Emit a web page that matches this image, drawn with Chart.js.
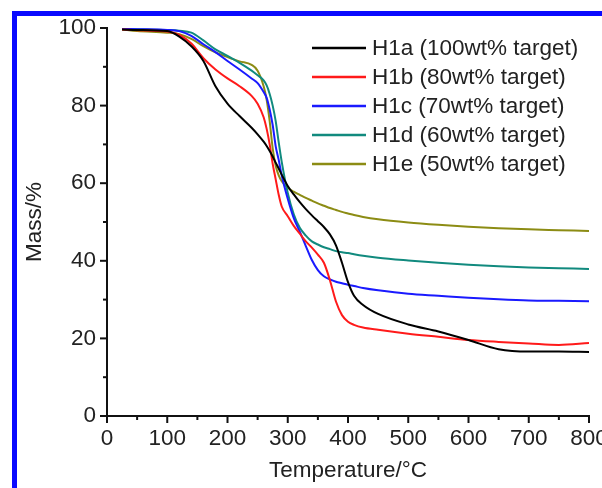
<!DOCTYPE html>
<html><head><meta charset="utf-8">
<script src="https://cdn.jsdelivr.net/npm/chart.js@4"></script>
<style>
html,body{margin:0;padding:0;background:#fff;}
#wrap{position:relative;width:602px;height:488px;overflow:hidden;background:#fff;}
#frame{position:absolute;left:12px;top:11px;width:620px;height:520px;border-left:5px solid #0a0aff;border-top:5px solid #0a0aff;box-sizing:border-box;pointer-events:none;}
canvas{position:absolute;left:0;top:0;}
</style></head>
<body><div id="wrap"><canvas id="c" width="602" height="488"></canvas><div id="frame"></div></div>
<script>
const temperatures = [25,50,100,120,140,160,180,200,220,240,250,260,265,270,275,280,285,290,300,310,320,330,340,350,360,370,380,390,400,410,425,450,500,550,600,650,700,750,800];
const h1a = [99.6,99.5,99.2,97.8,95.3,91.5,85,80.5,77.3,74.3, 72.6,70.7,69.6,68.3,66.9, 65.3,63.8,62.2,59.3,57.1, 55.1,53.3,51.7,50.2,48.7, 46.8,44,39.5,34.5,31, 28.6,26.3,23.6,21.8,19.6, 17.2,16.6,16.6,16.5];
const h1b = [99.6,99.4,99.1,98.2,96,92.2,89.3,87,85,82.5, 80.5,77,74,70,65, 61,57,54,51.5,49, 47,45,43.4,41.6,39.5, 35,29.5,26,24.3,23.5, 22.8,22.2,21.2,20.4,19.6, 19.1,18.7,18.3,18.8];
const h1c = [99.8,99.7,99.5,99.2,98,95.8,93.8,91.5,89.3,87, 85.8,83.5,82,79,75, 69.5,66,62,56,51, 47.5,43.8,40.2,37.6,36, 35.2,34.6,34.2,33.8,33.5, 33,32.4,31.5,31,30.5, 30.1,29.8,29.7,29.6];
const h1d = [99.8,99.7,99.5,99.3,98.8,96.8,94.5,92.8,91,89, 87.8,86.5,85.2,83,80, 76,70.5,65.5,57.5,52, 48.5,46.5,45,44.2,43.5, 43,42.5,42.2,42,41.7, 41.3,40.8,40.1,39.5,39, 38.6,38.3,38.1,37.9];
const h1e = [99.6,99.2,98.8,98.4,97.2,95.3,93.7,92.5,91.4,90.5, 89,85,81.5,76,69, 64.5,62,60.5,58.8,57.8, 57,56.2,55.5,54.8,54.2, 53.6,53.1,52.6,52.2,51.8, 51.3,50.7,49.9,49.3,48.8, 48.4,48.1,47.9,47.7];
const seriesLabels = ['H1a (100wt% target)','H1b (80wt% target)','H1c (70wt% target)','H1d (60wt% target)','H1e (50wt% target)'];
const seriesValues = [h1a,h1b,h1c,h1d,h1e];
const seriesColors = ['#000000','#ff1a1a','#1a1aff','#118a7e','#8c8c14'];
const xMajorTicks = [0,100,200,300,400,500,600,700,800];
const xMinorTicks = [50,150,250,350,450,550,650,750];
const yMajorTicks = [0,20,40,60,80,100];
const yMinorTicks = [10,30,50,70,90];

const FONT = "'Liberation Sans', Arial, sans-serif";
const FS = 22.5;
const TXT = '#222';

const tickPlugin = {
  id: 'tickMarks',
  afterDraw(chart) {
    const {ctx, chartArea, scales} = chart;
    const x = scales.x, y = scales.y;
    ctx.save();
    ctx.strokeStyle = '#111';
    ctx.lineWidth = 2;
    const draw = (vals, len, horiz) => {
      vals.forEach(v => {
        ctx.beginPath();
        if (horiz) {
          const px = x.getPixelForValue(v);
          ctx.moveTo(px, chartArea.bottom);
          ctx.lineTo(px, chartArea.bottom + len);
        } else {
          const py = y.getPixelForValue(v);
          ctx.moveTo(chartArea.left, py);
          ctx.lineTo(chartArea.left - len, py);
        }
        ctx.stroke();
      });
    };
    draw(xMajorTicks, 7, true);
    draw(xMinorTicks, 4, true);
    draw(yMajorTicks, 7, false);
    draw(yMinorTicks, 4, false);
    ctx.restore();
  }
};

const legendPlugin = {
  id: 'customLegend',
  afterDatasetsDraw(chart) {
    const {ctx} = chart;
    ctx.save();
    ctx.font = FS + 'px ' + FONT;
    ctx.textBaseline = 'middle';
    ctx.textAlign = 'left';
    chart.data.datasets.forEach((ds, i) => {
      const yy = 48 + 29 * i;
      ctx.strokeStyle = ds.borderColor;
      ctx.lineWidth = 2.5;
      ctx.beginPath();
      ctx.moveTo(312, yy);
      ctx.lineTo(366, yy);
      ctx.stroke();
      ctx.fillStyle = TXT;
      ctx.fillText(ds.label, 372, yy + 1);
    });
    ctx.restore();
  }
};

new Chart(document.getElementById('c'), {
  type: 'line',
  data: {
    datasets: seriesValues.map((vals, i) => ({
      label: seriesLabels[i],
      data: temperatures.map((t, j) => ({x: t, y: vals[j]})),
      borderColor: seriesColors[i],
      borderWidth: 2,
      pointRadius: 0,
      fill: false,
      cubicInterpolationMode: 'monotone'
    }))
  },
  options: {
    responsive: false,
    animation: false,
    layout: {padding: {top: 28, right: 13, bottom: 0, left: 0}},
    plugins: {legend: {display: false}, tooltip: {enabled: false}},
    scales: {
      x: {
        type: 'linear', min: 0, max: 800,
        ticks: {stepSize: 100, color: TXT, font: {family: FONT, size: FS}, padding: 2, maxRotation: 0, autoSkip: false},
        grid: {display: false, drawTicks: true, tickLength: 7},
        border: {display: true, color: '#111', width: 2},
        title: {display: true, text: 'Temperature/°C', color: TXT, font: {family: FONT, size: FS}, padding: {top: 0, bottom: 4}},
        afterFit(s) { s.height = 72; s.paddingRight = 0; s.paddingLeft = 0; }
      },
      y: {
        type: 'linear', min: 0, max: 100,
        ticks: {stepSize: 20, color: TXT, font: {family: FONT, size: FS}, padding: 4},
        grid: {display: false, drawTicks: true, tickLength: 7},
        border: {display: true, color: '#111', width: 2},
        title: {display: true, text: 'Mass/%', color: TXT, font: {family: FONT, size: FS}, padding: {top: 21, bottom: 0}},
        afterFit(s) { s.width = 107; }
      }
    }
  },
  plugins: [tickPlugin, legendPlugin]
});
</script>
</body></html>
